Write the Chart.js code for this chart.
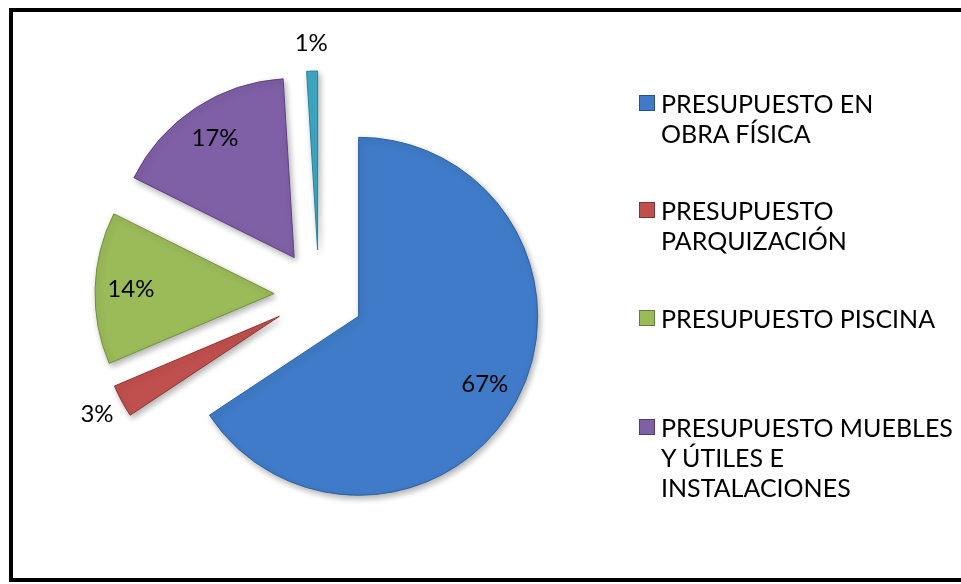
<!DOCTYPE html>
<html lang="es">
<head>
<meta charset="UTF-8" />
<title>Presupuesto</title>
<script src="https://cdn.jsdelivr.net/npm/chart.js"></script>
<style>
  body { margin: 0; background: #fff; font-family: Lato, "Open Sans", sans-serif; }
  #wrap { position: relative; width: 961px; height: 584px; overflow: hidden; }
  #frame { position: absolute; left: 9px; top: 8px; width: 1000px; height: 574px;
           border: 4px solid #000; box-sizing: border-box; }
  #chart { position: absolute; left: 0; top: 0; }
  .item { position: absolute; left: 639px; font-size: 25px; line-height: 30px; color: #000; }
  .item i { position: absolute; left: 0; top: 7px; width: 16px; height: 16px; box-sizing: border-box;
            border: 1px solid rgba(0,0,0,0.35); }
  .item span { display: block; margin-left: 22px; white-space: nowrap; }
</style>
</head>
<body>
<div id="wrap">
  <div id="frame"></div>
  <canvas id="chart" width="961" height="584"></canvas>
  <div id="legend"></div>
</div>
<script>
const categories = [
    ["PRESUPUESTO EN", "OBRA FÍSICA"],
    ["PRESUPUESTO", "PARQUIZACIÓN"],
    ["PRESUPUESTO PISCINA"],
    ["PRESUPUESTO MUEBLES", "Y ÚTILES E", "INSTALACIONES"],
    ["OTROS"]
];
const shares = [67, 3, 14, 17, 1];
const sliceColors = ["#3f7bc8", "#c0504d", "#9bbb59", "#7f5fa6", "#3fa9c5"];
const edgeColors = ["#2f5f9e", "#8f3532", "#72903a", "#5c4380", "#2b819a"];
const legendTops = [88, 195, 303, 412];
const EXPLODE = 45;

// legend: only the first four categories are listed
const legend = document.getElementById("legend");
legendTops.forEach((top, i) => {
    const item = document.createElement("div");
    item.className = "item";
    item.style.top = top + "px";
    item.innerHTML = '<i style="background:' + sliceColors[i] + '"></i><span>' +
        categories[i].join("<br>") + "</span>";
    legend.appendChild(item);
});

// pull every slice out from the centre along its mid angle,
// then draw a soft shadow and the percentage labels
const sliceDecor = {
    id: "sliceDecor",
    afterDatasetUpdate(chart, args) {
        args.meta.data.forEach(arc => {
            const mid = (arc.startAngle + arc.endAngle) / 2;
            arc.x += Math.cos(mid) * EXPLODE;
            arc.y += Math.sin(mid) * EXPLODE;
        });
    },
    beforeDatasetsDraw(chart) {
        const ctx = chart.ctx;
        ctx.save();
        ctx.shadowColor = "rgba(0,0,0,0.3)";
        ctx.shadowBlur = 6;
        ctx.shadowOffsetX = 2;
        ctx.shadowOffsetY = 3;
    },
    afterDatasetsDraw(chart) {
        const ctx = chart.ctx;
        ctx.restore();
        const meta = chart.getDatasetMeta(0);
        ctx.save();
        ctx.font = "24px Lato";
        ctx.fillStyle = "#000";
        ctx.textAlign = "center";
        ctx.textBaseline = "middle";
        meta.data.forEach((arc, i) => {
            const mid = (arc.startAngle + arc.endAngle) / 2;
            const dist = shares[i] < 5 ? arc.outerRadius + 28 : arc.outerRadius * 0.8;
            ctx.fillText(shares[i] + "%", arc.x + Math.cos(mid) * dist, arc.y + Math.sin(mid) * dist);
        });
        ctx.restore();
    }
};

new Chart(document.getElementById("chart"), {
    type: "pie",
    data: {
        labels: categories,
        datasets: [{
            data: shares,
            backgroundColor: sliceColors,
            borderColor: edgeColors,
            borderWidth: 1
        }]
    },
    options: {
        responsive: false,
        animation: false,
        radius: 179,
        layout: { padding: { left: 0, top: 6, right: 323, bottom: 0 } },
        plugins: {
            legend: { display: false },
            tooltip: { enabled: false }
        }
    },
    plugins: [sliceDecor]
});
</script>
</body>
</html>
